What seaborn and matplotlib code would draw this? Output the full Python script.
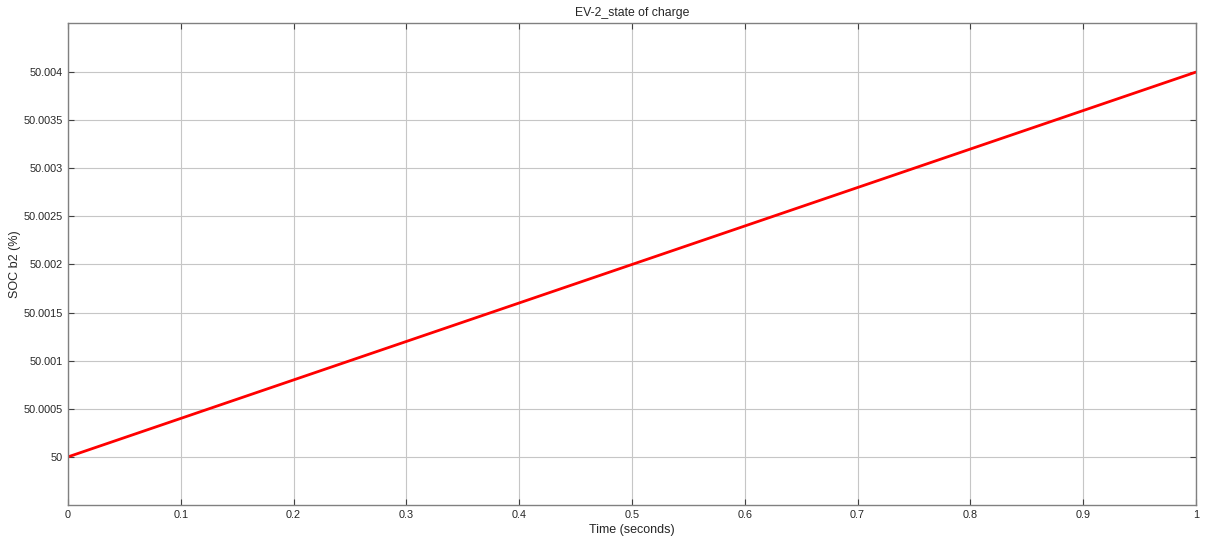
import pandas as pd
import matplotlib.pyplot as plt
import seaborn as sns

# simulated SOC of EV-2 (linear charge over 1 s)
time_s = [0.0, 0.25, 0.5, 0.75, 1.0]
soc_pct = [50.0, 50.001, 50.002, 50.003, 50.004]

x_ticks = [0, 0.1, 0.2, 0.3, 0.4, 0.5, 0.6, 0.7, 0.8, 0.9, 1]
x_labels = ['0', '0.1', '0.2', '0.3', '0.4', '0.5', '0.6', '0.7', '0.8', '0.9', '1']
y_ticks = [50, 50.0005, 50.001, 50.0015, 50.002, 50.0025, 50.003, 50.0035, 50.004]
y_labels = ['50', '50.0005', '50.001', '50.0015', '50.002', '50.0025', '50.003', '50.0035', '50.004']

df = pd.DataFrame({'Time': time_s, 'SOC': soc_pct})

sns.set_style('whitegrid')
plt.rcParams['font.family'] = ['Liberation Sans', 'DejaVu Sans']

fig = plt.figure(figsize=(12.05, 5.44), dpi=100)
ax = fig.add_axes([0.0564, 0.0717, 0.9361, 0.886])

sns.lineplot(data=df, x='Time', y='SOC', color='#ff0000', linewidth=2.0, ax=ax)

ax.set_xlim(0, 1)
ax.set_ylim(49.9995, 50.00451)
ax.set_xticks(x_ticks)
ax.set_xticklabels(x_labels)
ax.set_yticks(y_ticks)
ax.set_yticklabels(y_labels)

ax.grid(True, color='#c6c6c6', linewidth=0.8)
for side in ax.spines.values():
    side.set_color('#808080')
    side.set_linewidth(1.0)
ax.tick_params(direction='in', length=4, width=0.8, color='#404040',
               labelsize=7.8, labelcolor='#262626',
               top=True, right=True, bottom=True, left=True)

ax.set_title('EV-2_state of charge', fontsize=8.8, color='#262626', pad=5)
ax.set_xlabel('Time (seconds)', fontsize=9, color='#262626', labelpad=3)
ax.set_ylabel('SOC b2 (%)', fontsize=9, color='#262626', labelpad=2)

fig.savefig('out.png', dpi=100)
